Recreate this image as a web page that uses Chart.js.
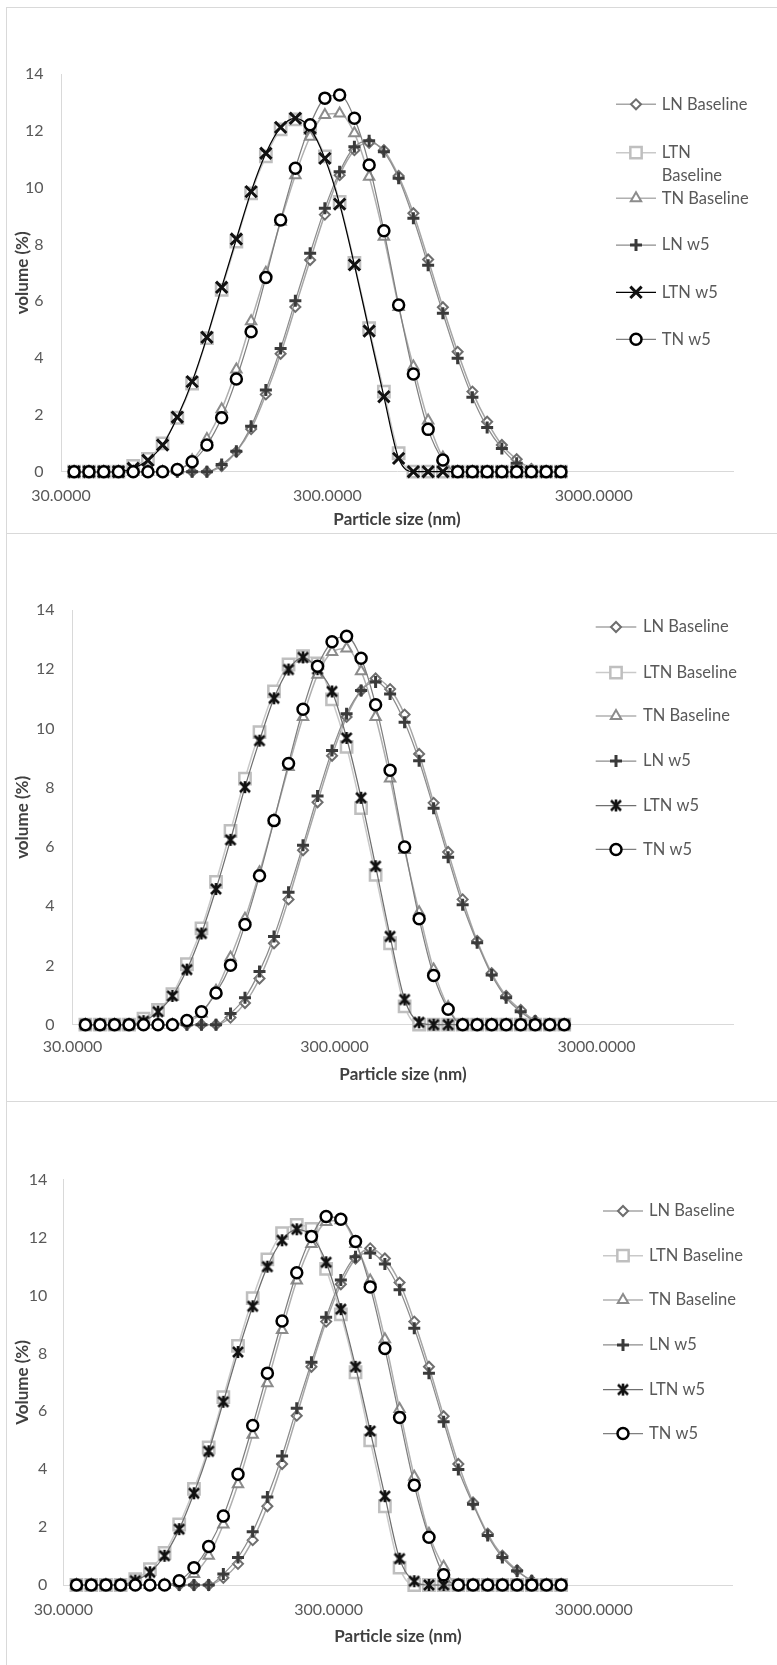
<!DOCTYPE html>
<html>
<head>
<meta charset="utf-8">
<script src="https://cdn.jsdelivr.net/npm/chart.js@4.4.1/dist/chart.umd.min.js"></script>
<style>
  html, body { margin: 0; padding: 0; background: #fff; }
  body { width: 777px; height: 1665px; position: relative; overflow: hidden; }
  .panel { position: absolute; left: 6px; width: 800px; border: 1px solid #d9d9d9; box-sizing: border-box; }
  canvas { position: absolute; left: 0; }
</style>
</head>
<body>
<div class="panel" style="top:7px;height:527px"></div>
<div class="panel" style="top:533px;height:569px"></div>
<div class="panel" style="top:1101px;height:600px"></div>
<canvas id="chart1" width="777" height="526" style="top:7px"></canvas>
<canvas id="chart2" width="777" height="568" style="top:533px"></canvas>
<canvas id="chart3" width="777" height="564" style="top:1101px"></canvas>
<script>
const sizes = [33.6, 38.2, 43.4, 49.3, 56.0, 63.6, 72.2, 82.0, 93.2, 105.9, 120.3, 136.6,
  155.2, 176.3, 200.3, 227.5, 258.5, 293.6, 333.6, 379.0, 430.5, 489.0, 555.5, 631.1,
  716.9, 814.4, 925.2, 1051, 1194, 1356, 1541, 1750, 1989, 2259];
const xTicks = [30, 300, 3000];
const seriesNames = ['LN Baseline', 'LTN Baseline', 'TN Baseline', 'LN w5', 'LTN w5', 'TN w5'];

// chart 1
const p1LnBase  = [0,0,0,0,0,0,0,0,0,0, 0.2,0.7,1.5,2.72,4.15,5.8,7.45,9.05,10.44,11.32,11.58,11.32,10.41,9.1,7.47,5.79,4.22,2.82,1.76,0.94,0.44,0.1,0,0];
const p1LtnBase = [0,0,0,0, 0.2,0.45,1.0,1.9,3.1,4.7,6.4,8.1,9.8,11.1,12.05,12.4,12.1,11.1,9.5,7.35,5.05,2.82,0.65, 0,0,0,0,0,0,0,0,0,0,0];
const p1TnBase  = [0,0,0,0,0,0,0, 0.05,0.4,1.15,2.2,3.6,5.3,7.0,8.8,10.44,11.79,12.56,12.61,11.91,10.38,8.27,5.8,3.7,1.8,0.5, 0,0,0,0,0,0,0,0];
const p1LnW5    = [0,0,0,0,0,0,0,0,0,0, 0.25,0.72,1.6,2.88,4.34,6.02,7.69,9.27,10.56,11.44,11.65,11.26,10.33,8.92,7.27,5.58,3.99,2.62,1.56,0.82,0.3,0.02,0,0];
const p1LtnW5   = [0,0,0,0, 0.12,0.4,0.94,1.92,3.17,4.73,6.49,8.19,9.86,11.21,12.12,12.44,12.09,11.03,9.42,7.28,4.95,2.64,0.47, 0,0,0,0,0,0,0,0,0,0,0];
const p1TnW5    = [0,0,0,0,0,0,0, 0.08,0.35,0.94,1.9,3.26,4.93,6.84,8.86,10.68,12.21,13.15,13.26,12.44,10.8,8.48,5.87,3.44,1.49,0.41, 0,0,0,0,0,0,0,0];

// chart 2
const p2LnBase  = [0,0,0,0,0,0,0,0,0,0, 0.24,0.73,1.56,2.75,4.23,5.89,7.51,9.08,10.39,11.28,11.69,11.33,10.47,9.14,7.49,5.83,4.23,2.83,1.74,0.97,0.5,0.14,0,0];
const p2LtnBase = [0,0,0,0, 0.2,0.5,1.03,2.04,3.25,4.82,6.54,8.31,9.88,11.25,12.16,12.44,12.2,10.98,9.38,7.31,5.06,2.75,0.62, 0,0,0,0,0,0,0,0,0,0,0];
const p2TnBase  = [0,0,0,0,0,0,0, 0.1,0.38,1.15,2.27,3.58,5.15,6.9,8.7,10.39,11.81,12.58,12.7,11.93,10.39,8.31,5.9,3.8,1.86,0.6, 0,0,0,0,0,0,0,0];
const p2LnW5    = [0,0,0,0,0,0,0,0,0,0, 0.38,0.91,1.8,2.98,4.47,6.06,7.72,9.26,10.5,11.28,11.57,11.16,10.21,8.91,7.31,5.65,4.05,2.77,1.68,0.91,0.44,0.12,0,0];
const p2LtnW5   = [0,0,0,0, 0.12,0.44,0.97,1.86,3.08,4.58,6.24,8.02,9.59,11.02,11.99,12.4,12.0,11.25,9.68,7.66,5.35,2.98,0.85,0.08, 0,0,0,0,0,0,0,0,0,0];
const p2TnW5    = [0,0,0,0,0,0,0, 0.14,0.44,1.07,2.01,3.38,5.03,6.89,8.82,10.65,12.1,12.93,13.11,12.37,10.8,8.59,6.0,3.58,1.66,0.52, 0,0,0,0,0,0,0,0];

// chart 3
const p3LnBase  = [0,0,0,0,0,0,0,0,0,0, 0.25,0.73,1.55,2.72,4.18,5.85,7.54,9.1,10.39,11.28,11.63,11.28,10.45,9.1,7.54,5.83,4.18,2.85,1.77,1.01,0.51,0.15,0,0];
const p3LtnBase = [0,0,0,0, 0.2,0.55,1.11,2.09,3.32,4.75,6.49,8.26,9.91,11.25,12.16,12.44,12.3,10.92,9.35,7.35,5.0,2.72,0.6, 0,0,0,0,0,0,0,0,0,0,0];
const p3TnBase  = [0,0,0,0,0,0,0, 0.1,0.38,1.01,2.09,3.48,5.19,6.97,8.81,10.52,11.78,12.54,12.6,11.78,10.52,8.49,6.08,3.74,1.77,0.63, 0,0,0,0,0,0,0,0];
const p3LnW5    = [0,0,0,0,0,0,0,0,0,0, 0.38,0.95,1.84,3.04,4.46,6.11,7.7,9.25,10.54,11.34,11.47,11.09,10.2,8.87,7.32,5.64,3.99,2.79,1.71,0.95,0.48,0.15,0,0];
const p3LtnW5   = [0,0,0,0, 0.15,0.44,1.01,1.93,3.17,4.62,6.33,8.05,9.63,11.0,11.91,12.29,12.06,11.15,9.53,7.54,5.32,3.07,0.91,0.13, 0,0,0,0,0,0,0,0,0,0];
const p3TnW5    = [0,0,0,0,0,0,0, 0.15,0.6,1.33,2.38,3.83,5.51,7.32,9.12,10.79,12.04,12.73,12.64,11.87,10.3,8.17,5.79,3.45,1.65,0.35, 0,0,0,0,0,0,0,0];

Chart.defaults.font.family = 'Lato';
Chart.defaults.animation = false;

// excel style "star" marker: X with a vertical bar
function starMarker(color) {
    const c = document.createElement('canvas');
    c.width = 16; c.height = 16;
    const g = c.getContext('2d');
    g.strokeStyle = color;
    g.lineWidth = 2.6;
    g.beginPath();
    g.moveTo(3, 3); g.lineTo(13, 13);
    g.moveTo(13, 3); g.lineTo(3, 13);
    g.moveTo(8, 2); g.lineTo(8, 14);
    g.stroke();
    return c;
}

function seriesStyles(ltnLine, ltnMarker) {
    return [
        { borderColor: '#a6a6a6', borderWidth: 1.5, pointStyle: 'rectRot', pointRadius: 5, pointBorderColor: '#6e6e6e', pointBackgroundColor: '#fff', pointBorderWidth: 2 },
        { borderColor: '#c9c9c9', borderWidth: 1.5, pointStyle: 'rect', pointRadius: 8, pointBorderColor: '#bfbfbf', pointBackgroundColor: '#fff', pointBorderWidth: 2.5 },
        { borderColor: '#b0b0b0', borderWidth: 1.5, pointStyle: 'triangle', pointRadius: 6, pointBorderColor: '#8c8c8c', pointBackgroundColor: '#fff', pointBorderWidth: 2 },
        { borderColor: '#8c8c8c', borderWidth: 1.25, pointStyle: 'cross', pointRadius: 6, pointBorderColor: '#3a3a3a', pointBackgroundColor: '#fff', pointBorderWidth: 3 },
        { borderColor: ltnLine, borderWidth: 1.25, pointStyle: ltnMarker, pointRadius: 8, pointBorderColor: '#111', pointBackgroundColor: '#fff', pointBorderWidth: 3 },
        { borderColor: '#7f7f7f', borderWidth: 1.25, pointStyle: 'circle', pointRadius: 5.5, pointBorderColor: '#000', pointBackgroundColor: '#fff', pointBorderWidth: 2.5 }
    ];
}

// legend drawn like the excel one: short line + marker + label
const sideLegend = {
    id: 'sideLegend',
    afterDraw(chart, args, opts) {
        const ctx = chart.ctx;
        ctx.save();
        chart.data.datasets.forEach((ds, i) => {
            const y = opts.ys[i];
            ctx.strokeStyle = ds.borderColor;
            ctx.lineWidth = ds.borderWidth;
            ctx.beginPath();
            ctx.moveTo(opts.x - opts.half, y);
            ctx.lineTo(opts.x + opts.half, y);
            ctx.stroke();
            ctx.fillStyle = ds.pointBackgroundColor;
            ctx.strokeStyle = ds.pointBorderColor;
            ctx.lineWidth = ds.pointBorderWidth;
            Chart.helpers.drawPoint(ctx, { pointStyle: ds.pointStyle, rotation: 0, radius: ds.pointRadius, borderWidth: ds.pointBorderWidth }, opts.x, y);

            ctx.font = opts.font;
            ctx.fillStyle = '#595959';
            ctx.textBaseline = 'middle';
            let lines = [ds.label];
            if (ctx.measureText(ds.label).width > opts.maxWidth) lines = ds.label.split(' ');
            lines.forEach((t, k) => ctx.fillText(t, opts.textX, y + k * 22.5));
        });
        ctx.restore();
    }
};

function makeChart(id, values, P) {
    const styles = seriesStyles(P.ltnLine, P.ltnMarker);
    const datasets = seriesNames.map((name, k) => Object.assign({
        label: name,
        data: sizes.map((s, i) => ({ x: s, y: values[k][i] })),
        cubicInterpolationMode: 'monotone',
        clip: false,
        order: 5 - k
    }, styles[k]));

    const tickFont = { size: 16 };
    const titleFont = { size: 17, weight: 'bold' };

    return new Chart(document.getElementById(id), {
        type: 'line',
        data: { datasets },
        options: {
            responsive: false,
            layout: { padding: { left: 0, top: P.top, right: P.right, bottom: 0 } },
            plugins: {
                legend: { display: false },
                tooltip: { enabled: false },
                sideLegend: P.legend
            },
            scales: {
                x: {
                    type: 'logarithmic',
                    min: 30,
                    max: 10000,
                    afterBuildTicks: s => { s.ticks = xTicks.map(v => ({ value: v })); },
                    ticks: { callback: v => Number(v).toFixed(4), autoSkip: false, maxRotation: 0, minRotation: 0,
                             padding: P.xTickPad, color: '#595959', font: tickFont },
                    grid: { display: false, drawTicks: false },
                    border: { display: true, color: '#d9d9d9', width: 1 },
                    title: { display: true, text: 'Particle size (nm)', color: '#404040', font: titleFont,
                             padding: { top: 0, bottom: P.xTitlePad } },
                    afterFit: s => { s.height = P.xH; }
                },
                y: {
                    min: 0,
                    max: 14,
                    ticks: { stepSize: 2, padding: P.yTickPad, color: '#595959', font: tickFont },
                    grid: { display: false, drawTicks: false },
                    border: { display: true, color: '#d9d9d9', width: 1 },
                    title: { display: true, text: P.yTitle, color: '#404040', font: titleFont,
                             padding: { top: 12.4, bottom: 0 } },
                    afterFit: s => { s.width = P.left; }
                }
            }
        },
        plugins: [sideLegend]
    });
}

makeChart('chart1', [p1LnBase, p1LtnBase, p1TnBase, p1LnW5, p1LtnW5, p1TnW5], {
    top: 67, right: 44, left: 61, xH: 61.3, xTickPad: 15, xTitlePad: 3.4, yTickPad: 17.5,
    yTitle: 'volume (%)', ltnLine: '#000', ltnMarker: 'crossRot',
    legend: { x: 636, half: 20, textX: 661.7, ys: [97.3, 145.7, 191.3, 238, 285.3, 332.3], font: '16.5px Lato', maxWidth: 90 }
});

makeChart('chart2', [p2LnBase, p2LtnBase, p2TnBase, p2LnW5, p2LtnW5, p2TnW5], {
    top: 77, right: 43.5, left: 72.5, xH: 76.3, xTickPad: 13, xTitlePad: 16.4, yTickPad: 18,
    yTitle: 'volume (%)', ltnLine: '#6f6f6f', ltnMarker: starMarker('#111'),
    legend: { x: 616, half: 20.3, textX: 643, ys: [94, 139.6, 183, 228, 272.5, 316.4], font: '16.5px Lato', maxWidth: 200 }
});

makeChart('chart3', [p3LnBase, p3LtnBase, p3TnBase, p3LnW5, p3LtnW5, p3TnW5], {
    top: 78.8, right: 44.5, left: 63.4, xH: 80, xTickPad: 15.4, xTitlePad: 17.9, yTickPad: 16,
    yTitle: 'Volume (%)', ltnLine: '#6f6f6f', ltnMarker: starMarker('#111'),
    legend: { x: 623, half: 20, textX: 649, ys: [110, 154.7, 199, 243.9, 288.6, 332.6], font: '16.5px Lato', maxWidth: 200 }
});
</script>
</body>
</html>
